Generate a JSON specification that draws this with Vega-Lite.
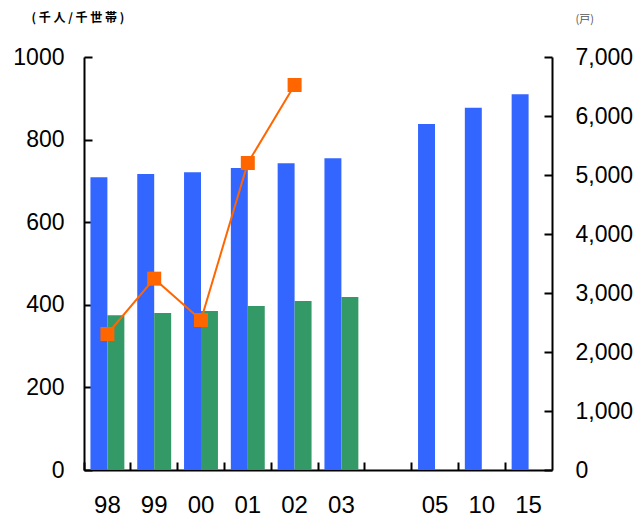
{
  "$schema": "https://vega.github.io/schema/vega-lite/v6.json",
  "width": 468,
  "height": 413,
  "autosize": {"type": "none"},
  "padding": {"left": 84, "top": 57, "right": 88, "bottom": 46},
  "config": {
    "view": {"stroke": null},
    "font": "Liberation Sans",
    "axis": {
      "grid": false,
      "domainColor": "#000000",
      "domainWidth": 2,
      "tickColor": "#000000",
      "tickWidth": 2,
      "tickSize": -8,
      "labelFont": "Liberation Sans",
      "labelFontSize": 23,
      "labelColor": "#000000"
    }
  },
  "datasets": {
    "people": [
      {"year": "98", "series": "人口", "value": 709},
      {"year": "98", "series": "世帯数", "value": 375},
      {"year": "99", "series": "人口", "value": 717},
      {"year": "99", "series": "世帯数", "value": 380},
      {"year": "00", "series": "人口", "value": 721},
      {"year": "00", "series": "世帯数", "value": 385},
      {"year": "01", "series": "人口", "value": 731},
      {"year": "01", "series": "世帯数", "value": 397},
      {"year": "02", "series": "人口", "value": 743},
      {"year": "02", "series": "世帯数", "value": 409},
      {"year": "03", "series": "人口", "value": 755},
      {"year": "03", "series": "世帯数", "value": 419},
      {"year": "05", "series": "人口", "value": 838},
      {"year": "10", "series": "人口", "value": 877},
      {"year": "15", "series": "人口", "value": 910}
    ],
    "housing": [
      {"year": "98", "units": 2305},
      {"year": "99", "units": 3243},
      {"year": "00", "units": 2542},
      {"year": "01", "units": 5203},
      {"year": "02", "units": 6525}
    ]
  },
  "layer": [
    {
      "data": {"name": "people"},
      "mark": {"type": "bar"},
      "encoding": {
        "x": {
          "field": "year",
          "type": "nominal",
          "sort": null,
          "scale": {"domain": ["98", "99", "00", "01", "02", "03", "", "05", "10", "15"], "paddingInner": 0, "paddingOuter": 0},
          "axis": {"title": null, "labelAngle": 0, "bandPosition": 0, "labelPadding": 31, "labelFontSize": 24, "labelFlush": false}
        },
        "xOffset": {
          "field": "series",
          "type": "nominal",
          "scale": {"domain": ["人口", "世帯数"], "paddingInner": 0, "paddingOuter": 0.38}
        },
        "y": {
          "field": "value",
          "type": "quantitative",
          "scale": {"domain": [0, 1000]},
          "axis": {
            "values": [0, 200, 400, 600, 800, 1000],
            "format": "d",
            "labelPadding": 28,
            "title": "( 千 人 / 千 世 帯 )",
            "titleAngle": 0,
            "titleFont": "Noto Sans CJK JP",
            "titleFontSize": 12,
            "titleFontWeight": "bold",
            "titleColor": "#000000",
            "titleAlign": "left",
            "titleBaseline": "middle",
            "titleX": -53,
            "titleY": -40
          }
        },
        "color": {
          "field": "series",
          "type": "nominal",
          "scale": {"domain": ["人口", "世帯数"], "range": ["#3366FF", "#339966"]},
          "legend": null
        }
      }
    },
    {
      "data": {"name": "housing"},
      "mark": {
        "type": "line",
        "color": "#FF6600",
        "strokeWidth": 2,
        "point": {"shape": "square", "size": 196, "filled": true, "color": "#FF6600", "opacity": 1}
      },
      "encoding": {
        "x": {
          "field": "year",
          "type": "nominal",
          "sort": null,
          "scale": {"domain": ["98", "99", "00", "01", "02", "03", "", "05", "10", "15"], "paddingInner": 0, "paddingOuter": 0},
          "axis": {"title": null, "labelAngle": 0, "bandPosition": 0, "labelPadding": 31, "labelFontSize": 24, "labelFlush": false}
        },
        "y": {
          "field": "units",
          "type": "quantitative",
          "scale": {"domain": [0, 7000]},
          "axis": {
            "orient": "right",
            "values": [0, 1000, 2000, 3000, 4000, 5000, 6000, 7000],
            "format": ",d",
            "labelPadding": 31,
            "title": "(戸)",
            "titleAngle": 0,
            "titleFont": "Noto Sans CJK JP",
            "titleFontSize": 11,
            "titleFontWeight": "normal",
            "titleColor": "#555555",
            "titleAlign": "left",
            "titleBaseline": "middle",
            "titleX": 23,
            "titleY": -38
          }
        }
      }
    }
  ],
  "resolve": {"scale": {"y": "independent"}}
}
